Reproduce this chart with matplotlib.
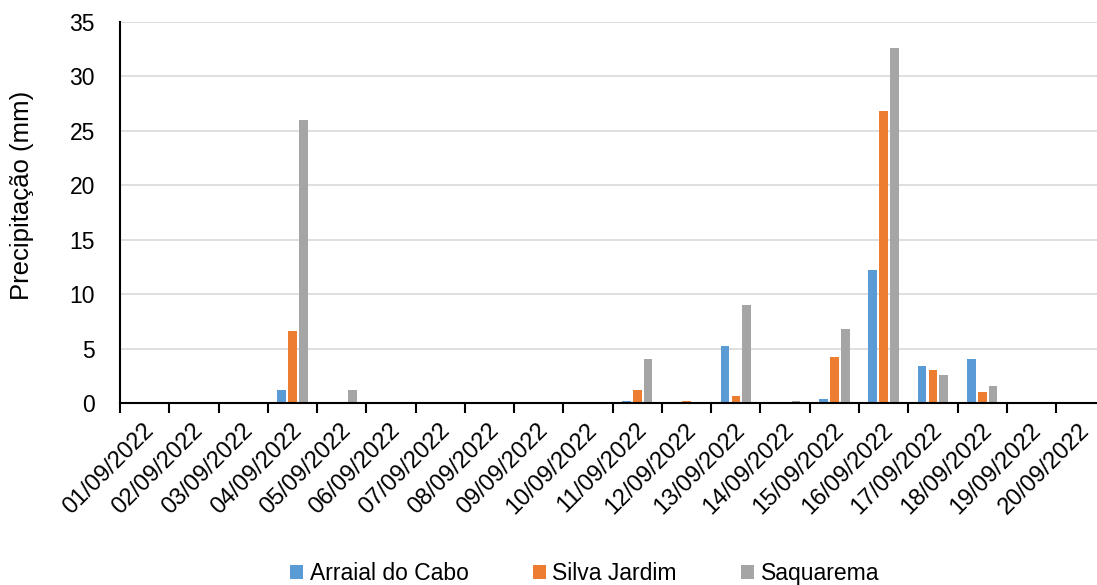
import numpy as np
import matplotlib
matplotlib.use("Agg")
import matplotlib.pyplot as plt
import matplotlib.transforms as mtransforms

plt.rcParams['font.family'] = ['Liberation Sans', 'DejaVu Sans']

# daily rainfall, 01/09 to 20/09/2022
dates = ["01/09/2022", "02/09/2022", "03/09/2022", "04/09/2022", "05/09/2022",
         "06/09/2022", "07/09/2022", "08/09/2022", "09/09/2022", "10/09/2022",
         "11/09/2022", "12/09/2022", "13/09/2022", "14/09/2022", "15/09/2022",
         "16/09/2022", "17/09/2022", "18/09/2022", "19/09/2022", "20/09/2022"]
arraial = [0, 0, 0, 1.2, 0, 0, 0, 0, 0, 0,
           0.2, 0, 5.2, 0, 0.4, 12.2, 3.4, 4.0, 0, 0]
silva = [0, 0, 0, 6.6, 0, 0, 0, 0, 0, 0,
         1.2, 0.2, 0.6, 0, 4.2, 26.8, 3.0, 1.0, 0, 0]
saquarema = [0, 0, 0, 26.0, 1.2, 0, 0, 0, 0, 0,
             4.0, 0, 9.0, 0.2, 6.8, 32.6, 2.6, 1.6, 0, 0]
series_names = ["Arraial do Cabo", "Silva Jardim", "Saquarema"]
colours = ["#5B9BD5", "#ED7D31", "#A5A5A5"]

fig = plt.figure(figsize=(10.97, 5.85), dpi=100)
ax = fig.add_axes([0.1094, 0.3111, 0.8982, 0.6513])

x = np.arange(len(dates)) + 0.5
w = 0.176
for i, (vals, name, col) in enumerate(zip([arraial, silva, saquarema], series_names, colours)):
    ax.bar(x + (i - 1) * 0.22, vals, width=w, color=col, label=name, linewidth=0, zorder=3)

ax.set_xlim(0, len(dates))
ax.set_ylim(0, 35)
ax.set_yticks(np.arange(0, 36, 5))
ax.grid(axis='y', color='#D9D9D9', linewidth=1.2, zorder=0)

for s in ['top', 'right']:
    ax.spines[s].set_visible(False)
ax.spines['left'].set_linewidth(1.5)
ax.spines['bottom'].set_linewidth(1.5)
ax.spines['left'].set_zorder(4)
ax.spines['bottom'].set_zorder(4)

# category labels at centres, tick marks at boundaries
ax.set_xticks(x)
ax.set_xticklabels(dates, rotation=45, ha='right', va='center', rotation_mode='anchor')
ax.set_xticks(np.arange(0, len(dates) + 1), minor=True)
ax.tick_params(axis='x', which='major', length=0, pad=15, labelsize=17)
ax.tick_params(axis='x', which='minor', length=7, width=1.5, direction='out')
ax.tick_params(axis='y', length=0, pad=18, labelsize=16.5)

shift = mtransforms.ScaledTranslation(6 / 100, -3 / 100, fig.dpi_scale_trans)
for lab in ax.get_xticklabels():
    lab.set_transform(lab.get_transform() + shift)

ax.set_ylabel("Precipitação (mm)", fontsize=18.5)
ax.yaxis.set_label_coords(-0.087, 0.545)

fig.legend(loc='center', bbox_to_anchor=(0.533, 0.02), ncol=3, frameon=False,
           fontsize=16.5, handlelength=0.55, handleheight=0.55, handletextpad=0.3,
           columnspacing=2.8)

fig.savefig("out.png", dpi=100)
